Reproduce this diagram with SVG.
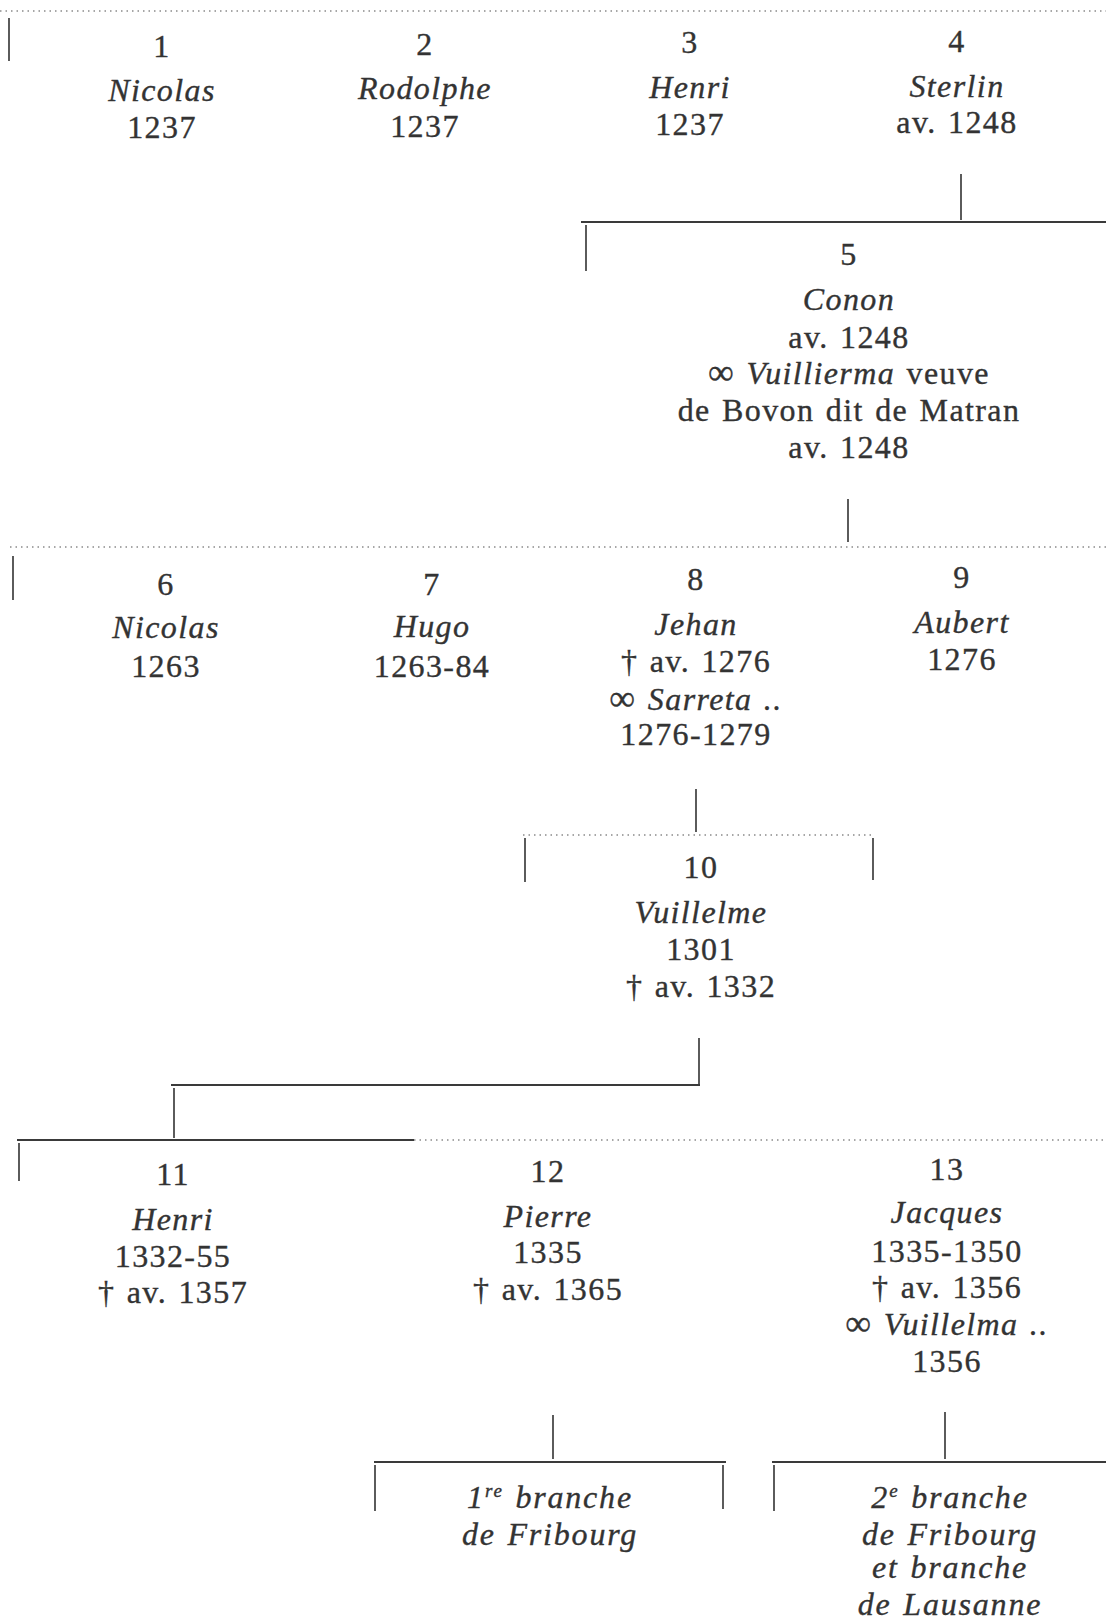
<svg xmlns="http://www.w3.org/2000/svg" width="1106" height="1620" viewBox="0 0 1106 1620">
<style>
text{font-family:"Liberation Serif","Times New Roman",serif;font-size:32px;fill:#333;stroke:#333;stroke-width:0.35px;text-anchor:middle;letter-spacing:1.4px;word-spacing:2px}
.i{font-style:italic}
.b{font-style:italic;letter-spacing:1.8px}
.sup{font-size:19px}
.inf{font-size:36px}
.ln{stroke:#3a3a3a;stroke-width:2.2;fill:none}
.tk{stroke:#4a4a4a;stroke-width:1.8;fill:none}
.dot{stroke:#8a8a8a;stroke-width:1.3;stroke-dasharray:1.5 4;fill:none}
</style>
<rect width="1106" height="1620" fill="#fff"/>
<g id="connectors">
<line class="dot" x1="0" y1="11" x2="1106" y2="11"/>
<line class="tk" x1="9" y1="18" x2="9" y2="61"/>
<line class="tk" x1="961" y1="174" x2="961" y2="220"/>
<line class="ln" x1="581" y1="222" x2="1106" y2="222"/>
<line class="tk" x1="586" y1="225" x2="586" y2="271"/>
<line class="tk" x1="848" y1="499" x2="848" y2="542"/>
<line class="dot" x1="10" y1="547" x2="1106" y2="547"/>
<line class="tk" x1="13" y1="556" x2="13" y2="600"/>
<line class="tk" x1="696" y1="789" x2="696" y2="832"/>
<line class="dot" x1="523" y1="835" x2="873" y2="835"/>
<line class="tk" x1="525" y1="838" x2="525" y2="882"/>
<line class="tk" x1="873" y1="838" x2="873" y2="880"/>
<line class="tk" x1="699" y1="1038" x2="699" y2="1084"/>
<line class="ln" x1="171" y1="1085" x2="700" y2="1085"/>
<line class="tk" x1="174" y1="1088" x2="174" y2="1138"/>
<line class="ln" x1="17" y1="1140" x2="414" y2="1140"/>
<line class="dot" x1="414" y1="1140" x2="1106" y2="1140"/>
<line class="tk" x1="19" y1="1143" x2="19" y2="1181"/>
<line class="tk" x1="553" y1="1415" x2="553" y2="1459"/>
<line class="ln" x1="374" y1="1462" x2="726" y2="1462"/>
<line class="tk" x1="375" y1="1465" x2="375" y2="1511"/>
<line class="tk" x1="723" y1="1465" x2="723" y2="1509"/>
<line class="tk" x1="945" y1="1412" x2="945" y2="1459"/>
<line class="ln" x1="772" y1="1462" x2="1106" y2="1462"/>
<line class="tk" x1="774" y1="1465" x2="774" y2="1511"/>
</g>
<g id="n1"><text x="162" y="57">1</text><text class="i" x="162" y="101">Nicolas</text><text x="162" y="138">1237</text></g>
<g id="n2"><text x="425" y="55">2</text><text class="i" x="425" y="99">Rodolphe</text><text x="425" y="137">1237</text></g>
<g id="n3"><text x="690" y="53">3</text><text class="i" x="690" y="98">Henri</text><text x="690" y="135">1237</text></g>
<g id="n4"><text x="957" y="52">4</text><text class="i" x="957" y="97">Sterlin</text><text x="957" y="133">av. 1248</text></g>
<g id="n5"><text x="849" y="265">5</text><text class="i" x="849" y="310">Conon</text><text x="849" y="348">av. 1248</text><text x="849" y="384"><tspan class="inf">∞</tspan> <tspan class="i">Vuillierma</tspan> veuve</text><text x="849" y="421">de Bovon dit de Matran</text><text x="849" y="458">av. 1248</text></g>
<g id="n6"><text x="166" y="595">6</text><text class="i" x="166" y="638">Nicolas</text><text x="166" y="677">1263</text></g>
<g id="n7"><text x="432" y="595">7</text><text class="i" x="432" y="637">Hugo</text><text x="432" y="677">1263-84</text></g>
<g id="n8"><text x="696" y="590">8</text><text class="i" x="696" y="635">Jehan</text><text x="696" y="672">† av. 1276</text><text x="696" y="710"><tspan class="inf">∞</tspan> <tspan class="i">Sarreta ..</tspan></text><text x="696" y="745">1276-1279</text></g>
<g id="n9"><text x="962" y="588">9</text><text class="i" x="962" y="633">Aubert</text><text x="962" y="670">1276</text></g>
<g id="n10"><text x="701" y="878">10</text><text class="i" x="701" y="923">Vuillelme</text><text x="701" y="960">1301</text><text x="701" y="997">† av. 1332</text></g>
<g id="n11"><text x="173" y="1185">11</text><text class="i" x="173" y="1230">Henri</text><text x="173" y="1267">1332-55</text><text x="173" y="1303">† av. 1357</text></g>
<g id="n12"><text x="548" y="1182">12</text><text class="i" x="548" y="1227">Pierre</text><text x="548" y="1263">1335</text><text x="548" y="1300">† av. 1365</text></g>
<g id="n13"><text x="947" y="1180">13</text><text class="i" x="947" y="1223">Jacques</text><text x="947" y="1262">1335-1350</text><text x="947" y="1298">† av. 1356</text><text x="947" y="1335"><tspan class="inf">∞</tspan> <tspan class="i">Vuillelma ..</tspan></text><text x="947" y="1372">1356</text></g>
<g id="b1"><text class="b" x="550" y="1508">1<tspan class="sup" dy="-11">re</tspan><tspan dy="11"> branche</tspan></text><text class="b" x="550" y="1545">de Fribourg</text></g>
<g id="b2"><text class="b" x="950" y="1508">2<tspan class="sup" dy="-11">e</tspan><tspan dy="11"> branche</tspan></text><text class="b" x="950" y="1545">de Fribourg</text><text class="b" x="950" y="1578">et branche</text><text class="b" x="950" y="1615">de Lausanne</text></g>
</svg>
